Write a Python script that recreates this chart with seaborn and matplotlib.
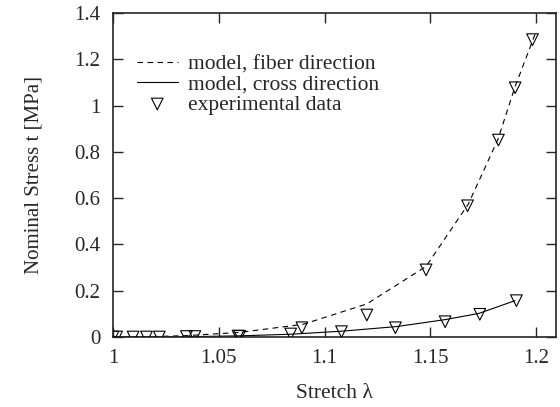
import numpy as np
import pandas as pd
import seaborn as sns
import matplotlib
matplotlib.use("Agg")
import matplotlib.pyplot as plt

# model curves
fiber_stretch = [1.0, 1.02, 1.035, 1.06, 1.09, 1.12, 1.148, 1.168, 1.182, 1.19, 1.2]
fiber_stress = [0.0, 0.002, 0.006, 0.02, 0.055, 0.143, 0.305, 0.575, 0.855, 1.08, 1.32]
cross_stretch = [1.0, 1.02, 1.04, 1.06, 1.084, 1.108, 1.134, 1.157, 1.173, 1.19]
cross_stress = [0.0, 0.0005, 0.002, 0.005, 0.012, 0.025, 0.045, 0.075, 0.102, 0.157]

# experimental data (both directions)
exp_stretch = [1.0, 1.0017, 1.0095, 1.0158, 1.0219, 1.0347, 1.0387, 1.0591, 1.0599,
               1.084, 1.0893, 1.108, 1.12, 1.1335, 1.148, 1.157, 1.1676, 1.1734,
               1.1822, 1.1901, 1.1907, 1.1983]
exp_stress = [0.0, 0.0, 0.0, 0.0, 0.0, 0.002, 0.002, 0.004, 0.003,
              0.013, 0.04, 0.023, 0.095, 0.04, 0.29, 0.066, 0.567, 0.098,
              0.851, 1.077, 0.157, 1.285]

sns.set_style("ticks")
plt.rcParams['font.family'] = ['Liberation Serif', 'DejaVu Serif']

fig = plt.figure(figsize=(5.6, 4.07), dpi=100)
ax = fig.add_axes([0.2018, 0.172, 0.791, 0.796])

sns.lineplot(x=fiber_stretch, y=fiber_stress, ax=ax, color="black", lw=0.8,
             linestyle=(0, (5, 4)), label="model, fiber direction")
sns.lineplot(x=cross_stretch, y=cross_stress, ax=ax, color="black", lw=0.8,
             label="model, cross direction")
sns.scatterplot(x=exp_stretch, y=exp_stress, ax=ax, marker="v", s=70,
                facecolor="none", edgecolor="black", linewidth=0.8,
                label="experimental data", zorder=3)

ax.set_xlim(1.0, 1.2094)
ax.set_ylim(0, 1.4)
ax.set_xticks([1.0, 1.05, 1.1, 1.15, 1.2])
ax.set_xticklabels(["1", "1.05", "1.1", "1.15", "1.2"])
ax.set_yticks([0, 0.2, 0.4, 0.6, 0.8, 1.0, 1.2, 1.4])
ax.set_yticklabels(["0", "0.2", "0.4", "0.6", "0.8", "1", "1.2", "1.4"])
ax.tick_params(direction="in", length=7, width=1, top=True, right=True,
               labelsize=15)
ax.tick_params(axis="x", pad=9)
ax.tick_params(axis="y", pad=9)
for s in ax.spines.values():
    s.set_linewidth(1.2)

ax.set_xlabel("Stretch λ", fontsize=15.5, labelpad=11)
ax.set_ylabel("Nominal Stress t [MPa]", fontsize=15, labelpad=22)

leg = ax.legend(loc="upper left", frameon=False, fontsize=15.5,
                handlelength=1.9, handletextpad=0.5, labelspacing=0.0,
                bbox_to_anchor=(0.01, 0.932))

fig.savefig("out.png", dpi=100)
